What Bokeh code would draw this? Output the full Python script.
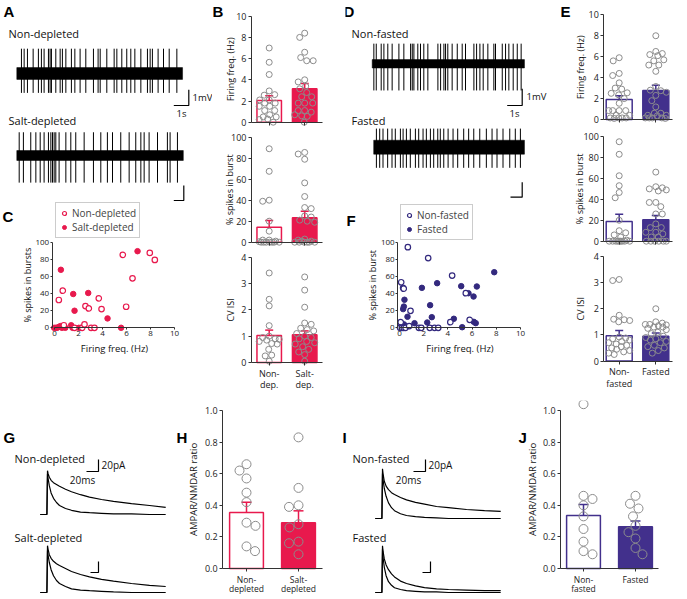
import math
from bokeh.plotting import figure
from bokeh.models import Range1d, Label, Legend, LegendItem, FixedTicker, NumeralTickFormatter
from bokeh.layouts import row, column
from bokeh.embed import file_html
from bokeh.resources import INLINE

# ======================= DATA =======================
# A / D : spontaneous firing, spike times (s)
A_ND_SPIKES = [0.31, 0.49, 0.71, 1.09, 1.44, 1.64, 1.82, 2.11, 2.22, 2.31, 2.60, 2.89, 3.04, 3.27,
               3.64, 3.87, 4.22, 4.60, 5.11, 5.42, 5.56, 6.00, 6.49, 6.67, 7.00, 7.33, 7.60, 7.87,
               8.27, 8.71, 8.89, 9.04, 9.42, 9.78, 10.16, 10.67]
A_SD_SPIKES = [0.16, 0.44, 0.93, 1.27, 1.56, 1.82, 2.11, 2.27, 2.38, 2.49, 2.60, 2.82, 3.27, 3.60,
               3.93, 4.49, 5.11, 5.60, 6.04, 6.38, 6.93, 7.49, 7.93, 8.27, 8.49, 8.82, 9.38, 10.04,
               10.22, 10.71]
D_NF_SPIKES = [0.11, 0.27, 0.60, 0.78, 1.04, 1.33, 1.78, 2.11, 2.56, 2.67, 2.78, 3.04, 3.22, 3.44,
               3.71, 4.38, 4.56, 4.78, 4.89, 5.04, 5.33, 5.67, 6.00, 6.22, 6.78, 6.96, 7.18, 7.40,
               7.71, 8.11, 8.22, 8.67, 8.89, 9.11, 9.40, 9.67, 9.93]
D_F_SPIKES = [0.18, 0.40, 0.62, 0.93, 1.22, 1.44, 1.78, 1.96, 2.18, 2.44, 2.78, 3.00, 3.29, 3.51,
              3.78, 4.00, 4.27, 4.44, 4.67, 4.96, 5.29, 5.60, 6.00, 6.33, 6.67, 7.07, 7.51, 7.89,
              8.22, 8.62, 9.07, 9.44, 9.78]
# [duration s, noise half-width mV, spike up mV, spike down mV]
A_ND_TRACE = [11.05, 0.38, 1.60, 1.25]
A_SD_TRACE = [11.10, 0.32, 1.50, 1.75]
D_NF_TRACE = [10.15, 0.27, 1.30, 1.72]
D_F_TRACE = [10.05, 0.45, 1.20, 1.33]

# B : Non-depleted vs Salt-depleted
B_CATS = ["Non-\ndep.", "Salt-\ndep."]
B_FR = [[7.0, 5.65, 4.5, 2.95, 2.6, 2.55, 2.1, 2.1, 1.8, 1.8, 1.5, 1.5, 1.1, 1.1, 0.7, 0.5, 0.5, 0.3, 0.25, 0.0],
        [8.4, 8.0, 6.6, 6.1, 5.8, 5.8, 4.0, 3.8, 3.4, 3.15, 2.8, 2.4, 2.4, 1.8, 1.8, 1.8, 1.1, 1.1, 0.95, 0.7, 0.6, 0.55, 0.0]]
B_FR_MEAN = [2.05, 3.15]
B_FR_SEM = [0.45, 0.50]
B_BU = [[89, 67.5, 40, 39, 20, 10.5, 2, 2, 1, 0.5, 0, 0, 0, 0, 0, 0, 0],
        [85.5, 84, 79, 56.5, 43.5, 33, 32, 25, 24, 21, 20, 19, 3, 2, 1, 1, 0, 0, 0, 0, 0, 0]]
B_BU_MEAN = [14.3, 23.2]
B_BU_SEM = [6.3, 6.3]
B_CV = [[3.4, 2.4, 2.15, 1.4, 1.0, 0.95, 0.9, 0.88, 0.85, 0.8, 0.72, 0.7, 0.5, 0.28, 0.25, 0.05],
        [3.25, 2.75, 2.1, 1.5, 1.45, 1.3, 1.25, 1.2, 1.1, 1.0, 0.95, 0.9, 0.8, 0.75, 0.7, 0.6, 0.5, 0.4, 0.3, 0.05]]
B_CV_MEAN = [1.03, 1.05]
B_CV_SEM = [0.20, 0.15]

# E : Non-fasted vs Fasted
E_CATS = ["Non-\nfasted", "Fasted"]
E_FR = [[5.9, 5.6, 4.4, 4.2, 3.5, 3.0, 2.9, 2.55, 2.5, 2.35, 2.0, 1.55, 0.85, 0.85, 0.85, 0.85, 0.4, 0.4, 0.15, 0.15, 0.15, 0.15, 0.1],
        [8.0, 6.5, 6.3, 6.2, 6.1, 5.7, 5.6, 5.2, 5.2, 4.6, 3.15, 2.8, 2.75, 2.6, 2.3, 1.8, 1.2, 0.6, 0.6, 0.4, 0.4, 0.35, 0.15, 0.15, 0.15, 0.15, 0.1]]
E_FR_MEAN = [1.90, 2.76]
E_FR_SEM = [0.38, 0.50]
E_BU = [[95, 83, 62.5, 53, 46.5, 41.5, 20, 10, 8, 6, 4, 1, 0, 0, 0, 0, 0, 0, 0, 0, 0],
        [66, 52, 51, 50, 49, 48, 37, 37, 33, 26, 26, 16.5, 13, 13, 8.5, 8.5, 7, 4, 4, 0, 0, 0, 0, 0, 0]]
E_BU_MEAN = [18.8, 20.4]
E_BU_SEM = [7.0, 4.1]
E_CV = [[3.12, 3.08, 1.75, 1.6, 1.58, 1.55, 1.5, 0.92, 0.88, 0.85, 0.8, 0.75, 0.7, 0.65, 0.6, 0.55, 0.5, 0.45, 0.4, 0.35, 0.3, 0.25],
        [2.0, 1.5, 1.45, 1.4, 1.4, 1.38, 1.35, 1.3, 1.3, 1.25, 1.2, 1.1, 1.05, 0.95, 0.9, 0.85, 0.8, 0.75, 0.7, 0.6, 0.55, 0.5, 0.4, 0.3]]
E_CV_MEAN = [0.97, 0.95]
E_CV_SEM = [0.20, 0.12]

FR_TICKS = [0, 2, 4, 6, 8, 10]
BU_TICKS = [0, 20, 40, 60, 80, 100]
CV_TICKS = [0, 1, 2, 3, 4]

# C / F : scatter, firing freq (Hz) vs % spikes in bursts
C_ND_X = [0.36, 0.69, 2.58, 2.86, 3.69, 3.92, 5.69, 5.97, 6.5, 7.94, 8.36, 0.78, 1.67, 2.31, 2.5, 3.05, 3.33]
C_ND_Y = [32.6, 43.5, 25.5, 22.7, 34.5, 22.0, 85.5, 24.7, 58.0, 87.8, 79.6, 3, 0, 0, 4, 0, 0]
C_SD_X = [0.53, 1.56, 1.67, 2.81, 4.42, 6.92, -0.03, 0.1, 0.22, 0.35, 0.5, 0.62, 0.9, 1.39, 1.5, 2.03, 2.2, 5.55]
C_SD_Y = [68.0, 39.6, 20.0, 40.8, 11.0, 89.8, 0, 0, 0, 1, 2, 0, 0, 3, 0, 0, 0, 0]
F_NF_X = [0.69, 2.37, 4.35, 0.14, 0.3, 0.35, 0.91, 5.48, 5.8, 4.2, 0.1, 0.05, 0.2, 0.35, 0.5, 0.8, 1.6, 1.8, 2.5, 2.9, 3.2]
F_NF_Y = [94.8, 82.0, 61.5, 53.6, 47.0, 46.0, 20.0, 40.7, 9.4, 6.6, 6.6, 0, 0, 0, 0, 2, 0, 0, 0, 0, 0]
F_F_X = [7.83, 3.11, 1.85, 5.1, 6.39, 5.7, 6.12, 0.41, 2.53, 0.36, 0.3, 0.66, 2.67, 4.49, 1.24, 2.29, 5.18, 6.14, 6.3, 0.37, 0.12]
F_F_Y = [65.4, 52.5, 47.0, 49.0, 48.6, 40.7, 36.8, 33.0, 26.6, 25.0, 22.0, 13.0, 12.5, 10.6, 5.4, 6.2, 0.7, 7.0, 5.5, 4.0, 0.0]
SC_XTICKS = [0, 2, 4, 6, 8, 10]
SC_YTICKS = [0, 20, 40, 60, 80, 100]

# G / I : evoked EPSCs (time ms, current pA)
EPSC_T = [-12, -1, 0, 1, 3, 6, 10, 15, 20, 30, 40, 55, 70, 90, 110, 140, 170, 197]
G_ND_SLOW = [0, 0, 73, 68, 62, 57, 53, 50, 47, 42, 38, 33, 29, 25, 22, 18, 15, 12]
G_ND_FAST = [0, 0, 68, 60, 48, 36, 27, 20, 15, 10, 7, 4, 3, 2, 1, 1, 0, 0]
G_SD_SLOW = [0, 0, 78, 72, 63, 57, 52, 48, 45, 40, 35, 30, 26, 22, 19, 15, 12, 10]
G_SD_FAST = [0, 0, 70, 62, 50, 38, 28, 20, 15, 10, 6, 4, 3, 2, 1, 0, 0, 0]
I_NF_SLOW = [0, 0, 83, 74, 62, 54, 48, 43, 40, 35, 31, 27, 24, 20, 18, 15, 13, 12]
I_NF_FAST = [0, 0, 75, 64, 50, 37, 26, 18, 13, 8, 5, 3, 2, 1, 0, 0, 0, 0]
I_F_SLOW = [0, 0, 78, 68, 56, 46, 38, 31, 26, 19, 15, 11, 8, 6, 5, 4, 3, 3]
I_F_FAST = [0, 0, 72, 58, 42, 28, 18, 12, 8, 5, 3, 2, 1, 1, 0, 0, 0, 0]

# H / J : AMPAR/NMDAR ratio
H_CATS = ["Non-\ndepleted", "Salt-\ndepleted"]
H_VALS = [[0.66, 0.62, 0.57, 0.48, 0.42, 0.29, 0.27, 0.14, 0.11],
          [0.83, 0.51, 0.40, 0.39, 0.28, 0.26, 0.17, 0.16, 0.09]]
H_MEAN = [0.355, 0.29]
H_SEM = [0.065, 0.075]
J_CATS = ["Non-\nfasted", "Fasted"]
J_VALS = [[1.04, 0.46, 0.44, 0.40, 0.33, 0.25, 0.17, 0.11, 0.09],
          [0.46, 0.41, 0.38, 0.33, 0.27, 0.23, 0.19, 0.13, 0.09]]
J_MEAN = [0.335, 0.265]
J_SEM = [0.07, 0.035]
RATIO_TICKS = [0, 0.2, 0.4, 0.6, 0.8, 1.0]

# ======================= STYLE =======================
PINK = "#E8194D"
PURPLE = "#42308C"
NAVY = "#33297E"
GREY = "#8C8C8C"
FONT = "Open Sans"
BOLD = "Liberation Sans"


def make_panel(box, xmap, ymap, axes=False):
    """Figure whose frame fills the whole box; data<->page-pixel mapping given by xmap/ymap."""
    L, T, W, H = box
    (xv0, xp0), (xv1, xp1) = xmap
    sx = (xp1 - xp0) / (xv1 - xv0)
    (yv0, yp0), (yv1, yp1) = ymap
    sy = (yp0 - yp1) / (yv1 - yv0)
    x0 = xv0 + (L - xp0) / sx
    x1 = x0 + W / sx
    y1 = yv0 + (yp0 - T) / sy
    y0 = y1 - H / sy
    kw = {} if axes else dict(x_axis_location=None, y_axis_location=None)
    p = figure(width=W, height=H, x_range=Range1d(x0, x1), y_range=Range1d(y0, y1),
               min_border_left=0, min_border_right=0, min_border_top=0, min_border_bottom=0,
               output_backend="svg", toolbar_location=None, tools="", **kw)
    p.outline_line_color = None
    p.xgrid.visible = False
    p.ygrid.visible = False

    def X(px):
        return x0 + (px - L) / sx

    def Y(py):
        return y1 - (py - T) / sy

    return p, X, Y, sx, sy


def letter(p, X, Y, px, py, t):
    p.add_layout(Label(x=X(px), y=Y(py), text=t, text_font=BOLD, text_font_style="bold",
                       text_font_size="15px", text_align="left", text_baseline="middle",
                       text_color="black"))


def txt(p, X, Y, px, py, t, size="11px", align="left", angle=0.0):
    p.add_layout(Label(x=X(px), y=Y(py), text=t, text_font=FONT, text_font_size=size,
                       text_align=align, text_baseline="middle", angle=angle,
                       text_color="#111111"))


def style_axis(ax, size="9px", tick_out=3):
    ax.axis_line_color = "#333333"
    ax.axis_line_width = 1
    ax.major_tick_line_color = "#333333"
    ax.major_tick_in = 0
    ax.major_tick_out = tick_out
    ax.minor_tick_line_color = None
    ax.major_label_text_font = FONT
    ax.major_label_text_font_size = size
    ax.major_label_text_color = "#222222"
    ax.major_label_standoff = 2


def swarm(vals, sx, sy, d, max_px):
    """Prism-like column scatter: nearest free horizontal offset, limited to the bar width."""
    placed = []
    offs = []
    cands = [0.0]
    k = 1
    while k * 0.5 <= max_px:
        cands += [k * 0.5, -k * 0.5]
        k += 1
    for i, v in enumerate(vals):
        yp = v * sy
        order = cands if i % 2 == 0 else [-c for c in cands]
        best = None
        for xo in order:
            if all((xo - a) ** 2 + (yp - b) ** 2 >= d * d for a, b in placed):
                best = xo
                break
        if best is None:
            best = max(order, key=lambda xo: min((xo - a) ** 2 + (yp - b) ** 2 for a, b in placed))
        placed.append((best, yp))
        offs.append(best / sx)
    return offs


def bar_panel(box, xmap, xb, ymap, ticks, means, sems, groups, color, bw, ylabel, ylab_px,
              cats=None, cat_stand=1, cat_size="9px", msize=6.0, cap_px=8, fmt=None,
              ysize="9px", lsize="9px"):
    p, X, Y, sx, sy = make_panel(box, xmap, ymap, axes=True)
    xs = [1, 2]
    p.vbar(x=xs, top=means, bottom=0, width=bw, fill_color=["white", color],
           line_color=color, line_width=1.5)
    tops = [m + s for m, s in zip(means, sems)]
    p.segment(x0=xs, y0=means, x1=xs, y1=tops, line_color=color, line_width=1.5)
    c = cap_px / sx / 2
    p.segment(x0=[x - c for x in xs], y0=tops, x1=[x + c for x in xs], y1=tops,
              line_color=color, line_width=1.5)
    for x, vals in zip(xs, groups):
        offs = swarm(vals, sx, sy, msize + 0.4, bw * sx / 2 - msize / 2 + 1)
        p.scatter(x=[x + o for o in offs], y=vals, size=msize, marker="circle",
                  fill_color=None, line_color=GREY, line_width=1)
    xa = p.xaxis[0]
    style_axis(xa)
    xa.fixed_location = 0
    xa.bounds = xb
    xa.ticker = FixedTicker(ticks=xs)
    if cats:
        xa.major_label_overrides = {1: cats[0], 2: cats[1]}
        xa.major_label_standoff = cat_stand
        xa.major_label_text_font_size = cat_size
        xa.major_label_text_line_height = 0.9
    else:
        xa.major_label_overrides = {1: "", 2: ""}
    ya = p.yaxis[0]
    style_axis(ya, size=ysize)
    ya.fixed_location = xb[0]
    ya.bounds = (0, ticks[-1])
    ya.ticker = FixedTicker(ticks=ticks)
    if fmt:
        ya.formatter = NumeralTickFormatter(format=fmt)
    # y-axis title, centred on the axis line
    (yv0, yp0), (yv1, yp1) = ymap
    py_top = yp0 - (ticks[-1] - yv0) * sy
    py_bot = yp0 - (0 - yv0) * sy
    txt(p, X, Y, ylab_px, (py_top + py_bot) / 2, ylabel, size=lsize, align="center", angle=math.pi / 2)
    return p, X, Y


def trace_panel(p, spikes, params, base, start=0.0):
    dur, noise, up, down = params
    p.quad(left=[start], right=[start + dur], bottom=[base - noise], top=[base + noise],
           fill_color="black", line_color="black", line_width=0.5)
    p.segment(x0=[start + t for t in spikes], y0=[base - down] * len(spikes),
              x1=[start + t for t in spikes], y1=[base + up] * len(spikes),
              line_color="black", line_width=1)


def scatter_panel(box, xmap, ymap, y_axis_x, xs1, ys1, xs2, ys2, color, names, ylabel,
                  ylab_px, xlab_px, leg_px, leg_py):
    p, X, Y, sx, sy = make_panel(box, xmap, ymap, axes=True)
    r2 = p.scatter(xs2, ys2, size=5.5, marker="circle", fill_color=color, line_color=color, line_width=1)
    r1 = p.scatter(xs1, ys1, size=5.5, marker="circle", fill_color="white", line_color=color, line_width=1.2)
    xa = p.xaxis[0]
    style_axis(xa, size="8px", tick_out=2)
    xa.fixed_location = 0
    xa.bounds = (0, 10)
    xa.ticker = FixedTicker(ticks=SC_XTICKS)
    xa.major_label_standoff = 1
    ya = p.yaxis[0]
    style_axis(ya, size="8px", tick_out=2)
    ya.fixed_location = y_axis_x
    ya.bounds = (0, 100)
    ya.ticker = FixedTicker(ticks=SC_YTICKS)
    ya.major_label_standoff = 1
    (yv0, yp0), (yv1, yp1) = ymap
    txt(p, X, Y, ylab_px, yp0 - (50 - yv0) * sy, ylabel, size="9px", align="center", angle=math.pi / 2)
    (xv0, xp0), (xv1, xp1) = xmap
    txt(p, X, Y, xp0 + (5 - xv0) * sx, xlab_px, "Firing freq. (Hz)", size="9.5px", align="center")
    L, T, W, H = box
    leg = Legend(items=[LegendItem(label=names[0], renderers=[r1]),
                        LegendItem(label=names[1], renderers=[r2])],
                 location=(leg_px - L, T + H - leg_py))
    leg.border_line_color = "#999999"
    leg.border_line_width = 1
    leg.background_fill_color = "white"
    leg.background_fill_alpha = 1.0
    leg.padding = 3
    leg.margin = 0
    leg.spacing = 0
    leg.glyph_width = 10
    leg.glyph_height = 12
    leg.label_height = 12
    leg.label_standoff = 3
    leg.label_text_font = FONT
    leg.label_text_font_size = "10px"
    leg.label_text_baseline = "middle"
    p.add_layout(leg)
    return p, X, Y


# ======================= PANELS =======================
# ---- A ----
pA, X, Y, _, _ = make_panel((0, 0, 212, 202), ((0, 16.3), (1, 31.3)), ((0, 73), (1, 57.5)))
trace_panel(pA, A_ND_SPIKES, A_ND_TRACE, 0.0)
trace_panel(pA, A_SD_SPIKES, A_SD_TRACE, Y(155))
pA.line([X(173.3), X(188.3), X(188.3)], [Y(105), Y(105), Y(89.3)], line_color="black", line_width=1.2)
pA.line([X(173.3), X(183.3), X(183.3)], [Y(200), Y(200), Y(185)], line_color="black", line_width=1.2)
txt(pA, X, Y, 192, 97, "1mV", size="9.5px")
txt(pA, X, Y, 181, 113, "1s", size="9.5px", align="center")
txt(pA, X, Y, 8, 33, "Non-depleted")
txt(pA, X, Y, 8, 120, "Salt-depleted")
letter(pA, X, Y, 3, 11, "A")

# ---- C ----
pC, X, Y = scatter_panel((0, 202, 212, 198), ((0, 54), (10, 174)), ((0, 327.3), (100, 242)), -0.2,
                         C_ND_X, C_ND_Y, C_SD_X, C_SD_Y, PINK, ["Non-depleted", "Salt-depleted"],
                         "% spikes in bursts", 27, 348, 55, 238)
letter(pC, X, Y, 2, 216, "C")

# ---- B ----
BX = ((1, 268.7), (2, 304.2))
pB1, X, Y = bar_panel((212, 0, 133, 128), BX, (0.5, 2.5), ((0, 121.7), (10, 15.7)),
                      FR_TICKS, B_FR_MEAN, B_FR_SEM, B_FR, PINK, 0.69, "Firing freq. (Hz)", 229.5)
letter(pB1, X, Y, 212, 11, "B")
pB2, _, _ = bar_panel((212, 128, 133, 120), BX, (0.5, 2.5), ((0, 241.7), (100, 136.7)),
                      BU_TICKS, B_BU_MEAN, B_BU_SEM, B_BU, PINK, 0.69, "% spikes in burst", 228.5)
pB3, _, _ = bar_panel((212, 248, 133, 152), BX, (0.5, 2.5), ((0, 362), (4, 256.7)),
                      CV_TICKS, B_CV_MEAN, B_CV_SEM, B_CV, PINK, 0.69, "CV ISI", 229.5, cats=B_CATS)

# ---- D ----
pD, X, Y, _, _ = make_panel((345, 0, 213, 202), ((0, 371.7), (1, 386.7)), ((0, 63.3), (1, 47.8)))
trace_panel(pD, D_NF_SPIKES, D_NF_TRACE, 0.0)
trace_panel(pD, D_F_SPIKES, D_F_TRACE, Y(146.7), start=0.1)
pD.line([X(506.7), X(521.7), X(521.7)], [Y(105), Y(105), Y(88.3)], line_color="black", line_width=1.2)
pD.line([X(510), X(521.7), X(521.7)], [Y(196.7), Y(196.7), Y(181.7)], line_color="black", line_width=1.2)
txt(pD, X, Y, 526, 96, "1mV", size="9.5px")
txt(pD, X, Y, 514, 113, "1s", size="9.5px", align="center")
txt(pD, X, Y, 351, 33, "Non-fasted")
txt(pD, X, Y, 351, 120, "Fasted")
letter(pD, X, Y, 343, 11, "D")

# ---- F ----
pF, X, Y = scatter_panel((345, 202, 213, 198), ((0, 399), (10, 520)), ((0, 327.3), (100, 242.3)), -0.15,
                         F_NF_X, F_NF_Y, F_F_X, F_F_Y, NAVY, ["Non-fasted", "Fasted"],
                         "% spikes in burst", 372, 348, 400, 240)
letter(pF, X, Y, 346, 220, "F")

# ---- E ----
EX = ((1, 618.7), (2, 655.3))
pE1, X, Y = bar_panel((558, 0, 128, 128), EX, (0.58, 2.45), ((0, 119), (10, 14.3)),
                      FR_TICKS, E_FR_MEAN, E_FR_SEM, E_FR, PURPLE, 0.71, "Firing freq. (Hz)", 580)
letter(pE1, X, Y, 560, 11, "E")
pE2, _, _ = bar_panel((558, 128, 128, 120), EX, (0.58, 2.45), ((0, 240.7), (100, 136)),
                      BU_TICKS, E_BU_MEAN, E_BU_SEM, E_BU, PURPLE, 0.71, "% spikes in burst", 578.5)
pE3, _, _ = bar_panel((558, 248, 128, 152), EX, (0.58, 2.45), ((0, 360.5), (4, 256)),
                      CV_TICKS, E_CV_MEAN, E_CV_SEM, E_CV, PURPLE, 0.71, "CV ISI", 580, cats=E_CATS)

# ---- G ----
pG, X, Y, _, _ = make_panel((0, 400, 170, 198), ((0, 47), (20, 59)), ((0, 514), (20, 502)))
gsd = Y(592)
pG.line(EPSC_T, G_ND_SLOW, line_color="black", line_width=1.2)
pG.line(EPSC_T, G_ND_FAST, line_color="black", line_width=1.2)
pG.line(EPSC_T, [gsd + v for v in G_SD_SLOW], line_color="black", line_width=1.2)
pG.line(EPSC_T, [gsd + v for v in G_SD_FAST], line_color="black", line_width=1.2)
pG.line([X(86), X(98), X(98)], [Y(471), Y(471), Y(459)], line_color="black", line_width=1.2)
pG.line([X(90), X(98), X(98)], [Y(572), Y(572), Y(561)], line_color="black", line_width=1.2)
txt(pG, X, Y, 101, 464, "20pA", size="10px")
txt(pG, X, Y, 82, 479, "20ms", size="10px", align="center")
txt(pG, X, Y, 14, 458, "Non-depleted")
txt(pG, X, Y, 14, 537, "Salt-depleted")
letter(pG, X, Y, 3, 437, "G")

# ---- H ----
pH, X, Y = bar_panel((170, 400, 168, 198), ((1, 246), (2, 298)), (0.54, 2.46), ((0, 568), (1, 410)),
                     RATIO_TICKS, H_MEAN, H_SEM, H_VALS, PINK, 0.65, "AMPAR/NMDAR ratio", 193,
                     cats=H_CATS, cat_stand=2, cat_size="8.5px", msize=9, cap_px=10, fmt="0.0",
                     lsize="9.5px")
letter(pH, X, Y, 176, 437, "H")

# ---- I ----
pI, X, Y, _, _ = make_panel((338, 400, 174, 198), ((0, 382), (20, 394)), ((0, 518), (20, 506)))
ifa = Y(592)
pI.line(EPSC_T, I_NF_SLOW, line_color="black", line_width=1.2)
pI.line(EPSC_T, I_NF_FAST, line_color="black", line_width=1.2)
pI.line(EPSC_T, [ifa + v for v in I_F_SLOW], line_color="black", line_width=1.2)
pI.line(EPSC_T, [ifa + v for v in I_F_FAST], line_color="black", line_width=1.2)
pI.line([X(413), X(425), X(425)], [Y(471), Y(471), Y(459)], line_color="black", line_width=1.2)
pI.line([X(422), X(430), X(430)], [Y(572), Y(572), Y(561)], line_color="black", line_width=1.2)
txt(pI, X, Y, 428, 464, "20pA", size="10px")
txt(pI, X, Y, 408, 479, "20ms", size="10px", align="center")
txt(pI, X, Y, 352, 458, "Non-fasted")
txt(pI, X, Y, 352, 537, "Fasted")
letter(pI, X, Y, 342, 437, "I")

# ---- J ----
pJ, X, Y = bar_panel((512, 400, 174, 198), ((1, 583), (2, 635)), (0.56, 2.44), ((0, 568), (1, 410)),
                     RATIO_TICKS, J_MEAN, J_SEM, J_VALS, PURPLE, 0.65, "AMPAR/NMDAR ratio", 532,
                     cats=J_CATS, cat_stand=2, cat_size="8.5px", msize=9, cap_px=10, fmt="0.0",
                     lsize="9.5px")
letter(pJ, X, Y, 518, 437, "J")

# ======================= LAYOUT =======================
top = row(column(pA, pC), column(pB1, pB2, pB3), column(pD, pF), column(pE1, pE2, pE3))
bottom = row(pG, pH, pI, pJ)
layout = column(top, bottom)

open("out.html", "w").write(file_html(layout, INLINE, title="Figure"))
